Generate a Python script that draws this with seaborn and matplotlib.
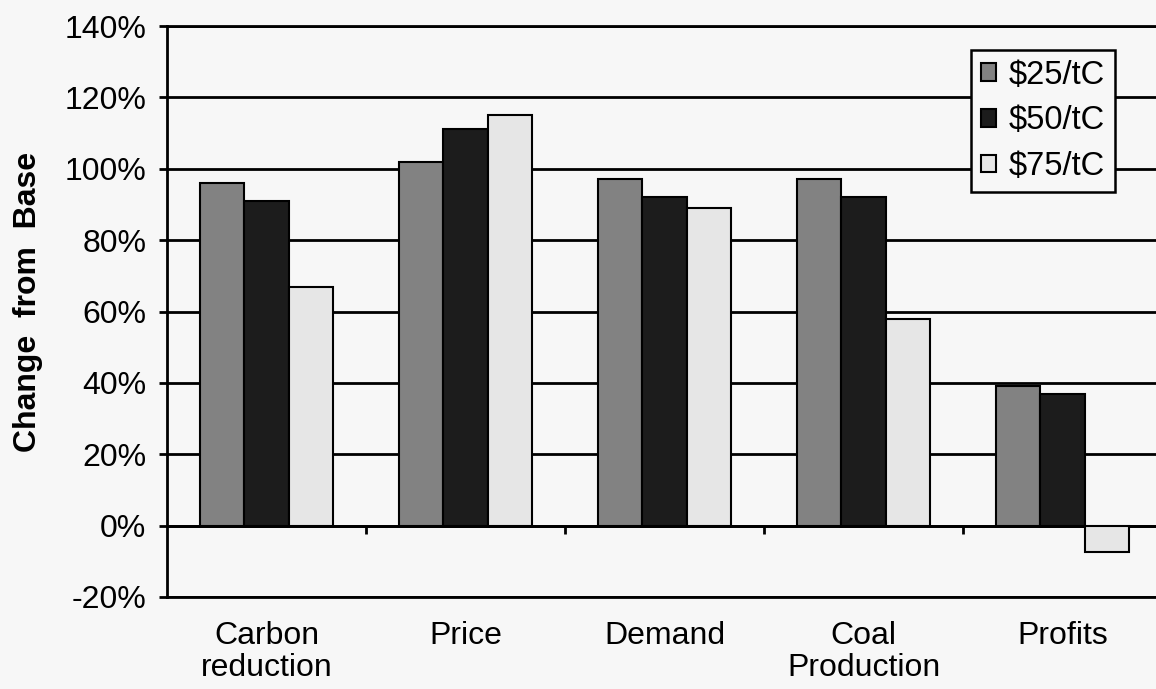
import matplotlib
matplotlib.use("Agg")
import matplotlib.pyplot as plt
import seaborn as sns
import pandas as pd

categories = ["Carbon\nreduction", "Price", "Demand", "Coal\nProduction", "Profits"]
scenarios = ["$25/tC", "$50/tC", "$75/tC"]
values_25 = [96, 102, 97, 97, 39]
values_50 = [91, 111, 92, 92, 37]
values_75 = [67, 115, 89, 58, -7.5]
y_ticks = [-20, 0, 20, 40, 60, 80, 100, 120, 140]
y_tick_labels = ["-20%", "0%", "20%", "40%", "60%", "80%", "100%", "120%", "140%"]

colors = ["#828282", "#1c1c1c", "#e6e6e6"]
bg = "#f7f7f7"

rows = []
for s, vals in zip(scenarios, [values_25, values_50, values_75]):
    for c, v in zip(categories, vals):
        rows.append({"category": c, "scenario": s, "value": v})
df = pd.DataFrame(rows)

sns.set_theme(style="white")
plt.rcParams["font.family"] = ["Liberation Sans", "DejaVu Sans"]
plt.rcParams["text.usetex"] = False
plt.rcParams["text.parse_math"] = False

fig = plt.figure(figsize=(11.56, 6.89), dpi=100, facecolor=bg)
ax = fig.add_axes([167 / 1156, 1 - 597 / 689, 995 / 1156, 571 / 689])
ax.set_facecolor(bg)

sns.barplot(data=df, x="category", y="value", hue="scenario", order=categories,
            hue_order=scenarios, palette=colors, saturation=1, width=0.67,
            edgecolor="black", linewidth=1.5, ax=ax, errorbar=None)

ax.set_xlim(-0.5, 4.5)
ax.set_ylim(-20, 140)
ax.set_yticks(y_ticks)
ax.set_yticklabels(y_tick_labels)
ax.set_axisbelow(True)
ax.yaxis.grid(True, color="black", linewidth=2)
ax.xaxis.grid(False)

for side in ["left", "top", "bottom"]:
    ax.spines[side].set_visible(True)
    ax.spines[side].set_color("black")
    ax.spines[side].set_linewidth(2)
ax.spines["right"].set_visible(False)

ax.tick_params(axis="y", direction="out", length=6, width=2, color="black",
               labelsize=23, pad=9, left=True)
ax.tick_params(axis="x", length=0, labelsize=23, pad=17)
for lbl in ax.get_yticklabels():
    lbl.set_color("black")
for lbl in ax.get_xticklabels():
    lbl.set_color("black")
    lbl.set_linespacing(1.1)

ax.set_xlabel("")
ax.set_ylabel("Change  from  Base", fontsize=23, fontweight="bold", color="black")
ax.yaxis.set_label_coords((43 - 167) / 995, (597 - 302) / 571)

# tick marks at category boundaries on the zero line
sec = ax.secondary_xaxis(20 / 160)
sec.set_xticks([0.5, 1.5, 2.5, 3.5])
sec.set_xticklabels([""] * 4)
sec.tick_params(axis="x", direction="out", length=6, width=2, color="black")
sec.spines["bottom"].set_linewidth(2)
sec.spines["bottom"].set_color("black")
sec.spines["top"].set_visible(False)

leg = ax.legend(loc="upper right", bbox_to_anchor=(1115 / 1156, 1 - 50 / 689),
                bbox_transform=fig.transFigure, borderaxespad=0, fontsize=23.5,
                frameon=True, fancybox=False, framealpha=1, facecolor=bg,
                edgecolor="black", handlelength=0.45, handleheight=0.45,
                handletextpad=0.4, labelspacing=0.45, borderpad=0.3, title=None)
leg.get_frame().set_linewidth(1.8)
for t in leg.get_texts():
    t.set_color("black")

fig.savefig("out.png", dpi=100, facecolor=bg)
